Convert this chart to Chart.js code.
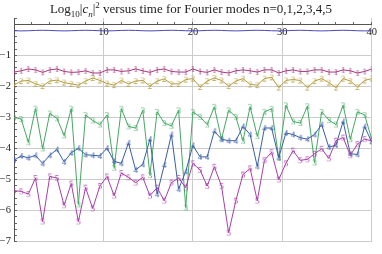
<!DOCTYPE html>
<html>
<head>
<meta charset="utf-8">
<script src="https://cdn.jsdelivr.net/npm/chart.js@4"></script>
<style>
html, body { margin: 0; padding: 0; background: #fff; }
#wrap { position: relative; width: 382px; height: 254px; }
canvas { position: absolute; left: 0; top: 0; }
#title {
    position: absolute; left: 0; top: 1px; width: 382px;
    text-align: center; white-space: nowrap;
    font-family: "Liberation Serif", serif; font-size: 13px; line-height: 15px; color: #222;
}
#title sub, #title sup { font-size: 9px; line-height: 0; }
</style>
</head>
<body>
<div id="wrap">
    <canvas id="myChart" width="382" height="254"></canvas>
    <div id="title">Log<sub>10</sub>|<i>c</i><sub><i>n</i></sub>|<sup>2</sup> versus time for Fourier modes n=0,1,2,3,4,5</div>
</div>
<script>
const times = [0, 0.8, 1.6, 2.4, 3.2, 4, 4.8, 5.6, 6.4, 7.2, 8, 8.8, 9.6, 10.4, 11.2, 12, 12.8, 13.6, 14.4, 15.2,
    16, 16.8, 17.6, 18.4, 19.2, 20, 20.8, 21.6, 22.4, 23.2, 24, 24.8, 25.6, 26.4, 27.2, 28, 28.8, 29.6, 30.4, 31.2,
    32, 32.8, 33.6, 34.4, 35.2, 36, 36.8, 37.6, 38.4, 39.2, 40];

// log10 |c_n|^2 for each mode
const mode0 = [-0.21, -0.215, -0.21, -0.2, -0.195, -0.2, -0.21, -0.215, -0.21, -0.2, -0.195, -0.2, -0.21, -0.215, -0.21,
    -0.2, -0.195, -0.2, -0.21, -0.215, -0.21, -0.2, -0.195, -0.2, -0.21, -0.215, -0.21, -0.2, -0.195, -0.2, -0.21,
    -0.215, -0.21, -0.2, -0.195, -0.2, -0.21, -0.215, -0.21, -0.2, -0.195, -0.2, -0.21, -0.215, -0.21, -0.2, -0.195,
    -0.2, -0.21, -0.215, -0.21];
const mode1 = [-1.54, -1.5, -1.44, -1.47, -1.55, -1.47, -1.44, -1.52, -1.55, -1.54, -1.5, -1.57, -1.57, -1.47, -1.47, -1.52, -1.5,
    -1.44, -1.5, -1.55, -1.47, -1.44, -1.52, -1.54, -1.54, -1.44, -1.52, -1.55, -1.47, -1.54, -1.57, -1.5, -1.47, -1.5,
    -1.54, -1.47, -1.47, -1.57, -1.5, -1.47, -1.52, -1.52, -1.47, -1.47, -1.54, -1.54, -1.47, -1.5, -1.57, -1.52, -1.44];
const mode2 = [-1.96, -1.83, -1.81, -1.92, -1.99, -1.83, -1.8, -1.88, -1.92, -1.96, -1.83, -1.73, -1.81, -1.91, -1.96, -1.81, -1.92,
    -1.83, -1.81, -1.99, -1.83, -1.76, -1.92, -1.92, -1.78, -1.75, -2.02, -1.83, -1.73, -1.81, -1.99, -1.83, -1.75, -1.94,
    -1.96, -1.75, -1.71, -2.04, -1.81, -1.78, -1.81, -2.04, -1.83, -1.75, -1.88, -2.04, -1.75, -1.83, -2.02, -1.81, -1.75];
const mode3 = [-3.0, -3.05, -3.8, -2.72, -4.0, -2.87, -3.03, -3.58, -2.72, -5.8, -2.92, -3.1, -3.23, -2.92, -4.62, -2.72, -3.29,
    -3.34, -2.77, -4.85, -2.82, -3.18, -3.27, -2.77, -5.9, -2.82, -2.98, -3.23, -2.66, -3.7, -2.77, -2.98, -3.75, -2.66,
    -3.6, -2.82, -2.72, -4.3, -2.61, -3.13, -3.18, -2.64, -4.45, -2.82, -3.08, -3.23, -2.61, -3.7, -2.82, -2.92, -3.7];
const mode4 = [-4.38, -4.24, -4.3, -4.22, -4.48, -4.22, -4.03, -4.43, -4.14, -3.99, -4.2, -4.22, -4.24, -3.99, -4.41, -4.48, -3.82,
    -4.69, -4.51, -3.7, -5.47, -4.53, -3.55, -5.31, -4.74, -3.9, -4.27, -4.27, -3.44, -3.7, -3.75, -3.75, -3.29, -3.55,
    -4.58, -3.34, -3.34, -4.3, -3.5, -3.55, -3.65, -3.7, -3.55, -3.23, -3.96, -3.89, -3.13, -4.17, -4.19, -3.29, -3.8];
const mode5 = [-5.36, -5.38, -5.47, -4.95, -6.35, -4.9, -4.95, -5.83, -5.13, -6.35, -5.26, -5.93, -5.21, -4.9, -5.52, -4.79, -4.93,
    -5.1, -4.93, -5.52, -5.26, -5.68, -5.1, -4.95, -5.26, -4.48, -4.69, -5.21, -4.59, -5.21, -6.71, -5.68, -4.84, -4.64,
    -5.68, -4.38, -4.12, -5.0, -4.48, -4.07, -4.38, -4.35, -4.17, -4.01, -4.32, -3.75, -3.65, -4.22, -3.86, -3.7, -3.75];

const modes = [mode0, mode1, mode2, mode3, mode4, mode5];
const markers = ['', '1', '2', '3', '4', '5'];
const colors = ['#4a4ab4', '#a8387c', '#b49c3c', '#44a862', '#3a5ea8', '#a83ea8'];

function makeMarker(text, color) {
    const c = document.createElement('canvas');
    c.width = 8;
    c.height = 10;
    const g = c.getContext('2d');
    g.font = '9px "Liberation Serif"';
    g.fillStyle = color;
    g.textAlign = 'center';
    g.textBaseline = 'middle';
    g.fillText(text, 4, 5.5);
    return c;
}

const datasets = modes.map((vals, n) => ({
    label: 'n=' + n,
    data: vals.map((v, i) => ({ x: times[i], y: v })),
    borderColor: colors[n],
    borderWidth: 1,
    pointStyle: markers[n] ? makeMarker(markers[n], colors[n]) : false,
    pointRadius: markers[n] ? 3 : 0,
    order: 5 - n,
}));

function isInt(v) {
    const r = Math.round(v * 10) / 10;
    return Number.isInteger(r) ? r : null;
}

const ctx = document.getElementById('myChart');

new Chart(ctx, {
    type: 'line',
    data: { datasets: datasets },
    options: {
        responsive: false,
        animation: false,
        layout: { padding: { top: 18, right: 10, bottom: 5, left: 0 } },
        plugins: { legend: { display: false }, tooltip: { enabled: false } },
        scales: {
            x: {
                type: 'linear',
                min: 0,
                max: 40,
                position: { y: 0 },
                border: { color: '#555', width: 1 },
                grid: {
                    color: c => (c.tick && c.tick.value % 10 === 0 && c.tick.value > 0) ? '#cccccc' : 'rgba(0,0,0,0)',
                    tickColor: '#666',
                    tickLength: -3,
                },
                ticks: {
                    stepSize: 2,
                    autoSkip: false,
                    maxRotation: 0,
                    padding: 5,
                    color: '#222',
                    font: { family: 'Liberation Serif', size: 10.5 },
                    callback: v => (v % 10 === 0 && v > 0) ? String(v) : '',
                },
            },
            y: {
                type: 'linear',
                min: -7,
                max: 0.2,
                position: 'left',
                afterFit: s => { s.width = 14; },
                border: { color: '#555', width: 1 },
                grid: {
                    color: c => {
                        if (!c.tick) return 'rgba(0,0,0,0)';
                        const r = isInt(c.tick.value);
                        return (r !== null && r < 0) ? '#cccccc' : 'rgba(0,0,0,0)';
                    },
                    tickColor: '#666',
                    tickLength: -3,
                },
                ticks: {
                    stepSize: 0.2,
                    autoSkip: false,
                    padding: 6,
                    color: '#222',
                    font: { family: 'Liberation Serif', size: 10.5 },
                    callback: v => {
                        const r = isInt(v);
                        return (r !== null && r < 0) ? '\u2212' + Math.abs(r) : '';
                    },
                },
            },
        },
    },
});
</script>
</body>
</html>
